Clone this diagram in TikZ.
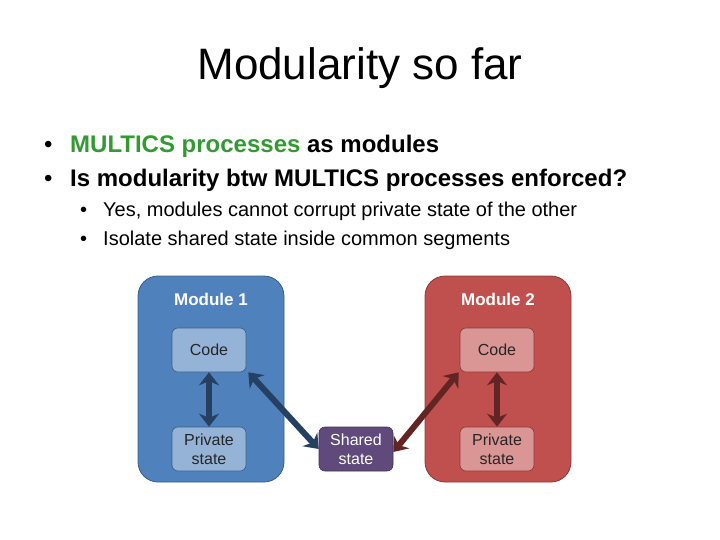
\documentclass[tikz,border=0pt]{standalone}
\usepackage{fontspec}
\setmainfont{Liberation Sans}
\usetikzlibrary{arrows.meta}
\definecolor{bfill}{HTML}{4F81BD}\definecolor{bdraw}{HTML}{385D8A}
\definecolor{rfill}{HTML}{C0504D}\definecolor{rdraw}{HTML}{8C3836}
\definecolor{binner}{HTML}{95B3D7}\definecolor{rinner}{HTML}{D99694}
\definecolor{shfill}{HTML}{604A7B}\definecolor{gtext}{HTML}{339933}
\definecolor{barrow}{HTML}{254061}\definecolor{rarrow}{HTML}{632523}
\tikzset{
 module/.style={rounded corners=20pt,line width=0.8pt},
 inner/.style={rounded corners=6pt,line width=0.6pt,minimum width=74pt,minimum height=44pt,align=center,font=\fontsize{16}{19}\selectfont,inner sep=0pt,text=black!85},
 dbl/.style={line width=6pt,{Stealth[length=13pt,width=20pt]}-{Stealth[length=13pt,width=20pt]}},
 bul/.style={anchor=base west,inner sep=0pt},
}
\begin{document}
\begin{tikzpicture}[x=1pt,y=-1pt]
\useasboundingbox (0,0) rectangle (720,540);
\node (title) at (360,68) {\fontsize{44}{48}\selectfont Modularity so far};
\node[bul] (b1d) at (44,153) {\fontsize{24}{26}\selectfont\textbullet};
\node[bul] (b1) at (70,153) {\fontsize{24}{26}\selectfont\bfseries\textcolor{gtext}{MULTICS processes} as modules};
\node[bul] (b2d) at (44,187) {\fontsize{24}{26}\selectfont\textbullet};
\node[bul] (b2) at (70,187) {\fontsize{24}{26}\selectfont\bfseries Is modularity btw MULTICS processes enforced?};
\node[bul] (s1d) at (80,216) {\fontsize{20}{22}\selectfont\textbullet};
\node[bul] (s1) at (103,216) {\fontsize{20}{22}\selectfont Yes, modules cannot corrupt private state of the other};
\node[bul] (s2d) at (80,245) {\fontsize{20}{22}\selectfont\textbullet};
\node[bul] (s2) at (103,245) {\fontsize{20}{22}\selectfont Isolate shared state inside common segments};
\draw[module,fill=bfill,draw=bdraw] (138,276) rectangle (284,482);
\draw[module,fill=rfill,draw=rdraw] (425,276) rectangle (571,482);
\node[white] (m1) at (211,299) {\fontsize{17}{19}\selectfont\bfseries Module 1};
\node[white] (m2) at (498,299) {\fontsize{17}{19}\selectfont\bfseries Module 2};
\node[inner,fill=binner,draw=bdraw] (c1) at (209,350) {Code};
\node[inner,fill=binner,draw=bdraw] (p1) at (209,449) {Private\\state};
\node[inner,fill=rinner,draw=rdraw] (c2) at (497,350) {Code};
\node[inner,fill=rinner,draw=rdraw] (p2) at (497,449) {Private\\state};
\node[inner,fill=shfill,draw=shfill!70!black,text=white] (sh) at (356,449) {Shared\\state};
\draw[dbl,barrow] (c1.south) -- (p1.north);
\draw[dbl,rarrow] (c2.south) -- (p2.north);
\draw[dbl,barrow] ([xshift=2pt]c1.south east) -- (sh.west);
\draw[dbl,rarrow] ([xshift=-1pt]c2.south west) -- ([yshift=-3pt]sh.east);
\end{tikzpicture}
\end{document}
